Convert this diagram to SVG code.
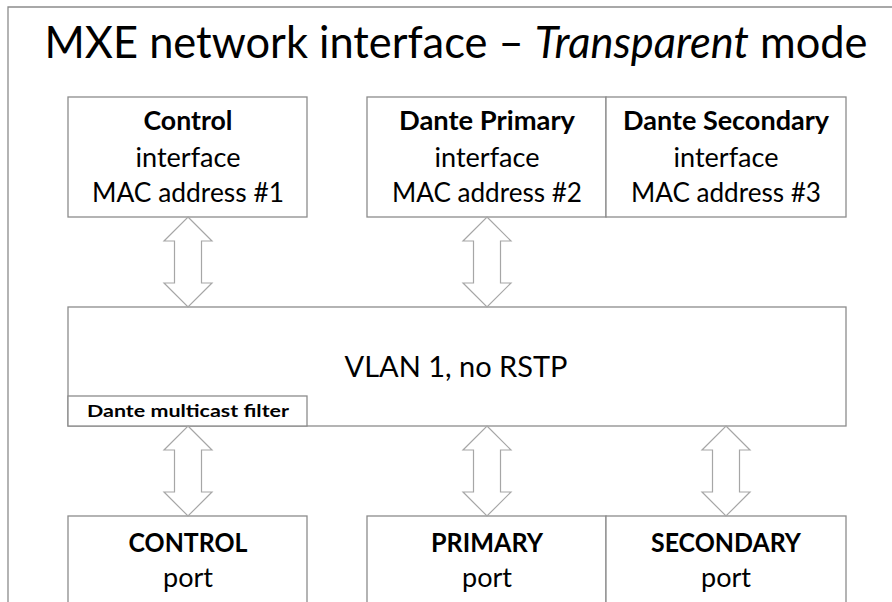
<svg xmlns="http://www.w3.org/2000/svg" xmlns:xlink="http://www.w3.org/1999/xlink" width="892" height="602" viewBox="0 0 892 602">
<style>
.box{fill:#fff;stroke:#8c8c8c;stroke-width:1.3}
.arr{fill:#fff;stroke:#a6a6a6;stroke-width:1.2}
text{font-family:Lato,"Open Sans","Liberation Sans",sans-serif;fill:#000;text-anchor:middle}
.b{font-weight:bold}
.t{font-size:26px}
</style>
<defs>
<path id="dbl" d="M0,0 L24,24 L13.5,24 L13.5,66 L24,66 L0,90 L-24,66 L-13.5,66 L-13.5,24 L-24,24 Z"/>
</defs>
<rect width="892" height="602" fill="#fff"/>
<path d="M8,602 L8,7 L892,7" fill="none" stroke="#8c8c8c" stroke-width="1.3"/>
<text id="title" x="456" y="58" font-size="44" textLength="823" lengthAdjust="spacingAndGlyphs">MXE network interface – <tspan font-style="italic">Transparent</tspan> mode</text>

<g id="control-if">
<rect class="box" x="68" y="97" width="239" height="120"/>
<text class="t b" x="188" y="130" textLength="89" lengthAdjust="spacingAndGlyphs">Control</text>
<text class="t" x="188" y="167" textLength="105" lengthAdjust="spacingAndGlyphs">interface</text>
<text class="t" x="188" y="202" textLength="192" lengthAdjust="spacingAndGlyphs">MAC address #1</text>
</g>
<g id="primary-if">
<rect class="box" x="367" y="97" width="239" height="120"/>
<text class="t b" x="487" y="130" textLength="176" lengthAdjust="spacingAndGlyphs">Dante Primary</text>
<text class="t" x="487" y="167" textLength="105" lengthAdjust="spacingAndGlyphs">interface</text>
<text class="t" x="487" y="202" textLength="190" lengthAdjust="spacingAndGlyphs">MAC address #2</text>
</g>
<g id="secondary-if">
<rect class="box" x="606" y="97" width="240" height="120"/>
<text class="t b" x="726" y="130" textLength="206" lengthAdjust="spacingAndGlyphs">Dante Secondary</text>
<text class="t" x="726" y="167" textLength="105" lengthAdjust="spacingAndGlyphs">interface</text>
<text class="t" x="726" y="202" textLength="190" lengthAdjust="spacingAndGlyphs">MAC address #3</text>
</g>

<g id="vlan">
<rect class="box" x="68" y="307" width="778" height="119"/>
<text x="456" y="377" font-size="29" textLength="223" lengthAdjust="spacingAndGlyphs">VLAN 1, no RSTP</text>
</g>
<g id="filter">
<rect class="box" x="68" y="396" width="239" height="30"/>
<text class="b" x="188" y="417" font-size="17" textLength="202" lengthAdjust="spacingAndGlyphs">Dante multicast filter</text>
</g>

<g id="control-port">
<rect class="box" x="68" y="516" width="239" height="100"/>
<text class="t b" x="188" y="552" textLength="119" lengthAdjust="spacingAndGlyphs">CONTROL</text>
<text class="t" x="188" y="587" textLength="50" lengthAdjust="spacingAndGlyphs">port</text>
</g>
<g id="primary-port">
<rect class="box" x="367" y="516" width="239" height="100"/>
<text class="t b" x="487" y="552" textLength="112" lengthAdjust="spacingAndGlyphs">PRIMARY</text>
<text class="t" x="487" y="587" textLength="50" lengthAdjust="spacingAndGlyphs">port</text>
</g>
<g id="secondary-port">
<rect class="box" x="606" y="516" width="240" height="100"/>
<text class="t b" x="726" y="552" textLength="150" lengthAdjust="spacingAndGlyphs">SECONDARY</text>
<text class="t" x="726" y="587" textLength="50" lengthAdjust="spacingAndGlyphs">port</text>
</g>

<g id="connectors">
<use xlink:href="#dbl" class="arr" x="188" y="217"/>
<use xlink:href="#dbl" class="arr" x="487" y="217"/>
<use xlink:href="#dbl" class="arr" x="188" y="426"/>
<use xlink:href="#dbl" class="arr" x="487" y="426"/>
<use xlink:href="#dbl" class="arr" x="726" y="426"/>
</g>
</svg>
